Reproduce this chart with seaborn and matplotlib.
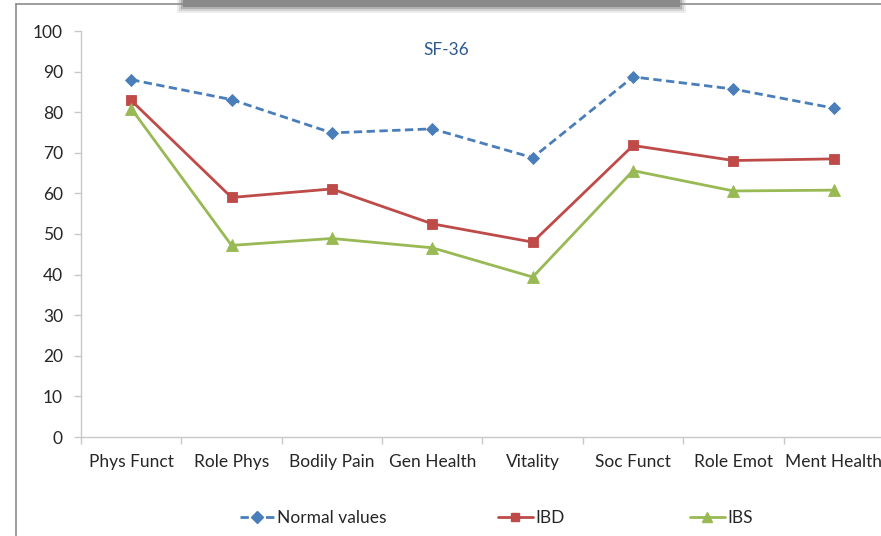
import matplotlib
matplotlib.use("Agg")
import matplotlib.pyplot as plt
from matplotlib.patches import Rectangle
from matplotlib.lines import Line2D
from matplotlib.ticker import FixedLocator
import numpy as np
import pandas as pd
import seaborn as sns

# SF-36 domain scores
domains = ["Phys Funct", "Role Phys", "Bodily Pain", "Gen Health",
           "Vitality", "Soc Funct", "Role Emot", "Ment Health"]
normal_values = [88.0, 83.1, 74.9, 75.9, 68.8, 88.7, 85.7, 81.0]
ibd_values = [82.9, 59.0, 61.1, 52.5, 48.0, 71.8, 68.1, 68.5]
ibs_values = [80.9, 47.2, 48.9, 46.6, 39.4, 65.6, 60.6, 60.8]
series_names = ["Normal values", "IBD", "IBS"]
y_ticks = [0, 10, 20, 30, 40, 50, 60, 70, 80, 90, 100]

df = pd.DataFrame({
    "domain": domains * 3,
    "pos": list(range(len(domains))) * 3,
    "score": normal_values + ibd_values + ibs_values,
    "series": [series_names[0]] * 8 + [series_names[1]] * 8 + [series_names[2]] * 8,
})

sns.set_style("white")
plt.rcParams["font.family"] = ["Lato", "DejaVu Sans"]

W, H = 881, 536
fig = plt.figure(figsize=(W / 100, H / 100), dpi=100)
ax = fig.add_axes([81 / W, 1 - 437 / H, (884 - 81) / W, (437 - 31) / H])

palette = {"Normal values": "#4A7EBB", "IBD": "#BE4B48", "IBS": "#98B954"}
markers = {"Normal values": "D", "IBD": "s", "IBS": "^"}
dashes = {"Normal values": (3, 1.6), "IBD": "", "IBS": ""}

sns.lineplot(data=df, x="pos", y="score", hue="series", style="series",
             palette=palette, markers=markers, dashes=dashes,
             linewidth=2.0, markersize=7, markeredgewidth=0.6,
             ax=ax, legend=False, sort=False)

# marker tweaks per series
for line, name in zip(ax.get_lines(), series_names):
    line.set_markeredgecolor(palette[name])
    if name == "Normal values":
        line.set_markersize(6.5)
    if name == "IBS":
        line.set_markersize(8)

ax.set_xlim(-0.5, len(domains) - 0.5)
ax.set_ylim(0, 100)
ax.set_yticks(y_ticks)
ax.set_xticks(range(len(domains)))
ax.set_xticklabels(domains)
ax.xaxis.set_minor_locator(FixedLocator(np.arange(-0.5, len(domains), 1.0)))
ax.set_xlabel("")
ax.set_ylabel("")

for s in ["top", "right"]:
    ax.spines[s].set_visible(False)
for s in ["left", "bottom"]:
    ax.spines[s].set_color("#C8C8C8")
    ax.spines[s].set_linewidth(1.0)

ax.tick_params(axis="y", which="major", direction="out", length=5, width=1,
               color="#C8C8C8", pad=8, labelsize=12.5, labelcolor="#262626", left=True)
ax.tick_params(axis="x", which="major", length=0, pad=12, labelsize=12.5,
               labelcolor="#262626", bottom=True)
ax.tick_params(axis="x", which="minor", direction="out", length=5, width=1,
               color="#C8C8C8", bottom=True)

fig.text(446 / W, 1 - 50 / H, "SF-36", ha="center", va="center",
         fontsize=12.5, color="#2E5A8E")

# legend entries across the bottom, one per series
legend_x = {"Normal values": 240, "IBD": 498, "IBS": 690}
for n in series_names:
    h = Line2D([], [], color=palette[n], marker=markers[n], linewidth=2.0,
               markersize=6 if n != "IBS" else 7, markeredgecolor=palette[n],
               linestyle=(0, dashes[n]) if dashes[n] else "-")
    fig.legend([h], [n], loc="center left",
               bbox_to_anchor=(legend_x[n] / W, 1 - 518 / H),
               frameon=False, fontsize=12.5, handlelength=2.0,
               handletextpad=0.15, borderpad=0, borderaxespad=0,
               labelcolor="#262626")

# window frame around the chart
fig.add_artist(Line2D([15.5 / W, 15.5 / W], [0, 1 - 3.5 / H], transform=fig.transFigure,
                      color="#8C8C8C", linewidth=1.2))
fig.add_artist(Line2D([15.5 / W, 1], [1 - 3.5 / H, 1 - 3.5 / H], transform=fig.transFigure,
                      color="#8C8C8C", linewidth=1.2))
for alpha, grow in [(0.12, 6), (0.2, 4), (0.35, 2), (0.6, 0)]:
    fig.add_artist(Rectangle(((183 - grow) / W, 1 - (7 + grow) / H),
                             (497 + 2 * grow) / W, (7 + grow) / H,
                             transform=fig.transFigure, facecolor="#707070",
                             edgecolor="none", alpha=alpha))

fig.savefig("out.png", dpi=100)
